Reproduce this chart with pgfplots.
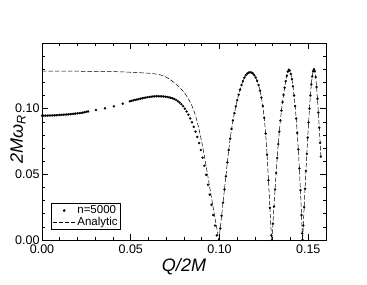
\documentclass[border=0pt]{standalone}
\usepackage{fontspec}
\setmainfont{Liberation Sans}
\usepackage{pgfplots}
\usepackage{pgfplotstable}
\pgfplotsset{compat=1.18}
\pgfplotsset{
  mydotleg/.style={legend image code/.code={\draw[##1] plot coordinates {(11.5pt,0pt)};}},
  mylineleg/.style={legend image code/.code={\draw[##1] (0pt,0pt) -- (23pt,0pt);}},
}

\pgfplotstableread{
x y
0.0000 0.1285
0.0100 0.1285
0.0200 0.1285
0.0300 0.1284
0.0400 0.1282
0.0450 0.1280
0.0500 0.1277
0.0550 0.1274
0.0600 0.1270
0.0630 0.1266
0.0660 0.1260
0.0690 0.1247
0.0720 0.1224
0.0750 0.1193
0.0780 0.1155
0.0800 0.1125
0.0820 0.1086
0.0840 0.1036
0.0850 0.1004
0.0860 0.0968
0.0870 0.0922
0.0880 0.0870
0.0890 0.0810
0.0900 0.0745
0.0910 0.0675
0.0920 0.0602
0.0930 0.0522
0.0940 0.0442
0.0950 0.0362
0.0960 0.0282
0.0970 0.0203
0.0980 0.0125
0.0990 0.0050
0.0997 0.0000
}\anapre

\pgfplotstableread{
x y
0.0997 0.0000
0.1004 0.0088
0.1012 0.0185
0.1020 0.0285
0.1028 0.0385
0.1036 0.0485
0.1044 0.0590
0.1052 0.0685
0.1060 0.0772
0.1068 0.0845
0.1076 0.0910
0.1084 0.0966
0.1092 0.1018
0.1100 0.1065
0.1108 0.1107
0.1116 0.1145
0.1124 0.1180
0.1132 0.1210
0.1140 0.1236
0.1148 0.1255
0.1156 0.1267
0.1164 0.1274
0.1172 0.1277
0.1180 0.1275
0.1188 0.1268
0.1196 0.1255
0.1204 0.1237
0.1212 0.1212
0.1220 0.1180
0.1228 0.1138
0.1236 0.1085
0.1244 0.1020
0.1252 0.0930
0.1260 0.0810
0.1268 0.0650
0.1276 0.0455
0.1284 0.0245
0.1292 0.0035
0.1295 0.0000
0.1301 0.0125
0.1307 0.0255
0.1313 0.0385
0.1319 0.0510
0.1325 0.0625
0.1331 0.0730
0.1337 0.0825
0.1343 0.0910
0.1349 0.0985
0.1355 0.1050
0.1361 0.1105
0.1367 0.1160
0.1373 0.1210
0.1379 0.1250
0.1385 0.1282
0.1391 0.1297
0.1396 0.1290
0.1402 0.1265
0.1408 0.1225
0.1414 0.1170
0.1420 0.1100
0.1426 0.1020
0.1432 0.0925
0.1438 0.0815
0.1444 0.0690
0.1450 0.0545
0.1456 0.0380
0.1462 0.0190
0.1466 0.0050
0.1468 0.0000
0.1472 0.0110
0.1477 0.0250
0.1482 0.0390
0.1487 0.0525
0.1492 0.0655
0.1497 0.0780
0.1502 0.0895
0.1507 0.1000
0.1512 0.1100
0.1517 0.1185
0.1522 0.1245
0.1527 0.1285
0.1532 0.1300
0.1537 0.1285
0.1542 0.1240
0.1547 0.1165
0.1552 0.1075
0.1557 0.0970
0.1562 0.0855
0.1567 0.0740
0.1571 0.0635
}\archtab

\pgfplotstableread{
x y
0.000 0.0947
0.001 0.0947
0.002 0.0947
0.003 0.0947
0.004 0.0948
0.005 0.0948
0.006 0.0949
0.007 0.0949
0.008 0.0950
0.009 0.0951
0.010 0.0952
0.011 0.0953
0.012 0.0954
0.013 0.0955
0.014 0.0956
0.015 0.0957
0.016 0.0958
0.017 0.0960
0.018 0.0961
0.019 0.0963
0.020 0.0964
0.021 0.0966
0.022 0.0968
0.023 0.0970
0.024 0.0973
0.025 0.0976
0.026 0.0979
0.0304 0.0990
0.0355 0.1003
0.0405 0.1018
0.0455 0.1038
0.0495 0.1056
0.0505 0.1060
0.0515 0.1064
0.0525 0.1067
0.0535 0.1070
0.0545 0.1073
0.0555 0.1076
0.0565 0.1079
0.0575 0.1082
0.0585 0.1085
0.0595 0.1087
0.0605 0.1089
0.0615 0.1091
0.0625 0.1093
0.0635 0.1094
0.0645 0.1095
0.0655 0.1095
0.0665 0.1094
0.0675 0.1094
0.0685 0.1093
0.0695 0.1091
0.0705 0.1089
0.0715 0.1086
0.0725 0.1083
0.0735 0.1079
0.0745 0.1074
0.0755 0.1067
0.0765 0.1058
0.0775 0.1047
0.0785 0.1034
0.0795 0.1019
0.0805 0.1000
0.0815 0.0978
0.0825 0.0954
0.0835 0.0926
0.0845 0.0896
0.0855 0.0862
0.0865 0.0825
0.0875 0.0785
0.0885 0.0738
0.0895 0.0685
0.0905 0.0627
0.0915 0.0565
0.0925 0.0497
0.0935 0.0420
0.0945 0.0345
0.0955 0.0268
0.0965 0.0190
0.0975 0.0110
0.0985 0.0035
}\dotstab

\begin{document}
\begin{tikzpicture}
\useasboundingbox (-42pt,-44pt) rectangle (325pt,240pt);
\begin{axis}[
  at={(0,0)}, anchor=south west,
  width=284pt, height=197pt, scale only axis,
  xmin=0, xmax=0.16, ymin=0, ymax=0.15,
  xtick={0,0.05,0.1,0.15}, xticklabels={0.00,0.05,0.10,0.15},
  ytick={0,0.05,0.1}, yticklabels={0.00,0.05,0.10},
  minor xtick={0.01,0.02,0.03,0.04,0.06,0.07,0.08,0.09,0.11,0.12,0.13,0.14},
  minor ytick={0.01,0.02,0.03,0.04,0.06,0.07,0.08,0.09,0.11,0.12,0.13,0.14},
  tick align=inside, major tick length=6pt, minor tick length=3pt,
  axis line style={line width=0.8pt},
  tick style={line width=0.6pt, black},
  /pgf/number format/assume math mode=true,
  ticklabel style={font=\fontsize{12.5}{14}\selectfont},
  xticklabel style={yshift=-1pt},
  yticklabel style={xshift=1pt},
  xlabel={\itshape Q/2M},
  ylabel={\itshape 2Mω\textsubscript{R}},
  xlabel style={font=\fontsize{18}{20}\selectfont, at={(axis description cs:0.5,0)}, anchor=base, yshift=-31pt},
  ylabel style={font=\fontsize{18}{20}\selectfont, at={(axis description cs:-0.067,0.51)}, anchor=base},
  legend style={at={(0.032,0.051)}, anchor=south west, draw=black, line width=0.6pt,
    font=\fontsize{11.5}{12.5}\selectfont, inner sep=1pt, row sep=-1pt,
    nodes={inner sep=1.5pt}},
  legend cell align=left,
]
\addplot[forget plot, black, line width=0.5pt, dash pattern=on 4.5pt off 2pt] table[x=x,y=y] {\anapre};
\addplot[forget plot, black, line width=0.5pt, dash pattern=on 4.5pt off 2pt] table[x=x,y=y] {\archtab};
\addplot[forget plot, only marks, mark=*, mark size=1.1pt, mark options={fill=black, draw=black, line width=0.2pt}] table[x=x,y=y] {\dotstab};
\addplot[forget plot, only marks, mark=*, mark size=1.1pt, mark options={fill=black, draw=black, line width=0.2pt}] table[x=x,y=y] {\archtab};
\addlegendimage{only marks, mark=*, mark size=1pt, mark options={fill=black, draw=black}, mydotleg}
\addlegendentry{n=5000}
\addlegendimage{black, line width=0.5pt, dash pattern=on 4pt off 2pt, mylineleg}
\addlegendentry{Analytic}
\end{axis}
\end{tikzpicture}
\end{document}
